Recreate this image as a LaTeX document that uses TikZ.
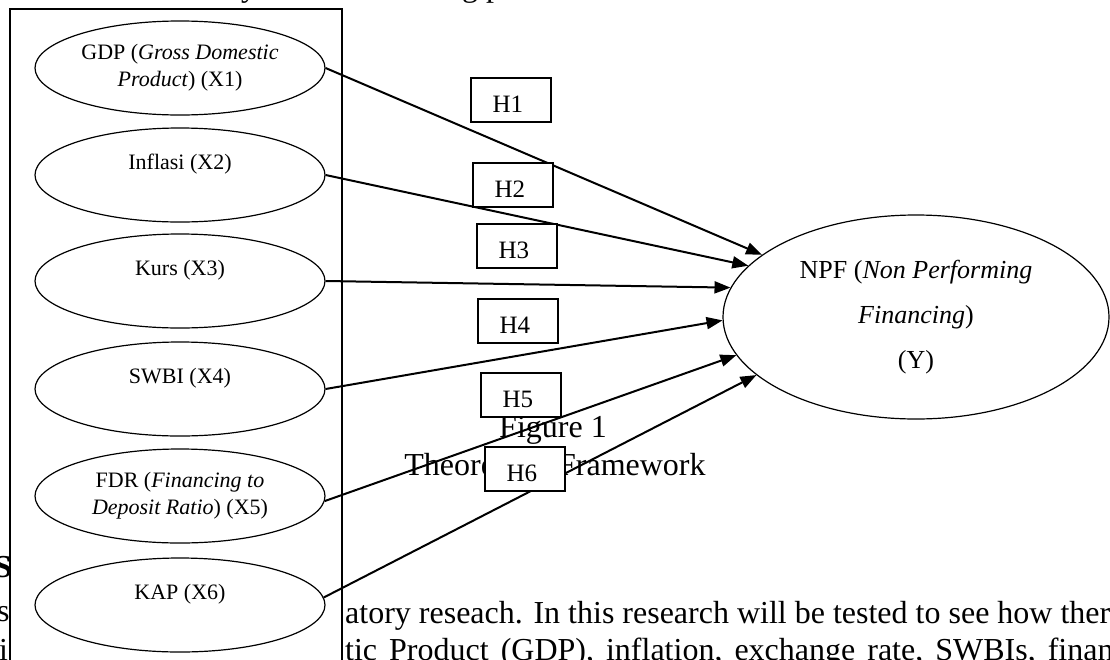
\documentclass[tikz,border=0pt]{standalone}
\usepackage{fontspec}
\setmainfont{Liberation Serif}
\usetikzlibrary{shapes.geometric,arrows.meta}
\newcommand{\hypbox}[4]{%
  \node[hbox,anchor=north west] (#1) at (#2,#3) {};
  \begin{scope}
    \clip ([xshift=1pt,yshift=-1pt]#1.north west) rectangle ([xshift=-1pt,yshift=-35.6pt]#1.north east);
    \node[htext,anchor=base] at ([xshift=-3pt,yshift=-35pt]#1.north) {#4};
  \end{scope}}
\begin{document}
\begin{tikzpicture}[x=1pt,y=-1pt,
  var/.style={ellipse,draw,fill=white,line width=1.2pt,minimum width=290pt,minimum height=94pt,inner sep=0pt,align=center,font=\fontsize{22}{27}\selectfont},
  dep/.style={ellipse,draw,fill=white,line width=1.2pt,minimum width=386pt,minimum height=204pt,inner sep=0pt,align=center,font=\fontsize{26}{45}\selectfont},
  hbox/.style={draw,fill=white,line width=1.6pt,minimum width=80pt,minimum height=44pt,inner sep=0pt},
  htext/.style={font=\fontsize{25}{30}\selectfont,inner sep=0pt},
  link/.style={line width=2pt,-{Triangle[length=16pt,width=12pt]}},
  page/.style={font=\fontsize{32}{38}\selectfont,inner sep=0pt,anchor=base west},
]
\useasboundingbox (0,0) rectangle (1110,659);
% page text behind the figure
\node[page] (t1) at (241,-4) {y};
\node[page] (t2) at (462,-4) {g p};
\node[page,font=\bfseries\fontsize{32}{38}\selectfont] (t3) at (-6,577) {S};
\node[page] (t4) at (-3,621) {s};
\node[page] (t5) at (-1,660) {i};
\node[page] (t6) at (345,623) {atory reseach. In this research will be tested to see how there};
\node[page] (t7) at (345,660) {\spaceskip=12pt\relax tic Product (GDP), inflation, exchange rate, SWBIs, financing};
\node[page,anchor=base] (cap1) at (553,437) {Figure 1};
\node[page,anchor=base] (cap2) at (555,475) {Theoretical Framework};
% frame
\draw[line width=1.6pt,fill=white] (10,9) rectangle (342,700);
% variables
\node[var] (x1) at (180,68) {GDP (\textit{Gross Domestic}\\\textit{Product}) (X1)};
\node[var] (x2) at (180,175) {Inflasi (X2)\\\mbox{}};
\node[var] (x3) at (180,281) {Kurs (X3)\\\mbox{}};
\node[var] (x4) at (180,389) {SWBI (X4)\\\mbox{}};
\node[var] (x5) at (180,496) {FDR (\textit{Financing to}\\\textit{Deposit Ratio}) (X5)};
\node[var] (x6) at (180,605) {KAP (X6)\\\mbox{}};
\node[dep] (npf) at (916,317) {NPF (\textit{Non Performing}\\\textit{Financing})\\(Y)};
% links
\draw[link] (x1.east) -- (npf.158.4);
\draw[link] (x2.east) -- (npf.163.4);
\draw[link] (x3.east) -- (npf.171.4);
\draw[link] (x4.east) -- (npf.181.8);
\draw[link] (x5.-2.5) -- (npf.192);
\draw[link] (x6.3) -- (npf.200.6);
% hypothesis labels
\hypbox{h1}{470}{77}{H1}
\hypbox{h2}{472}{162}{H2}
\hypbox{h3}{476}{223}{H3}
\hypbox{h4}{477}{298}{H4}
\hypbox{h5}{480}{372}{H5}
\hypbox{h6}{484}{446}{H6}
\end{tikzpicture}
\end{document}
